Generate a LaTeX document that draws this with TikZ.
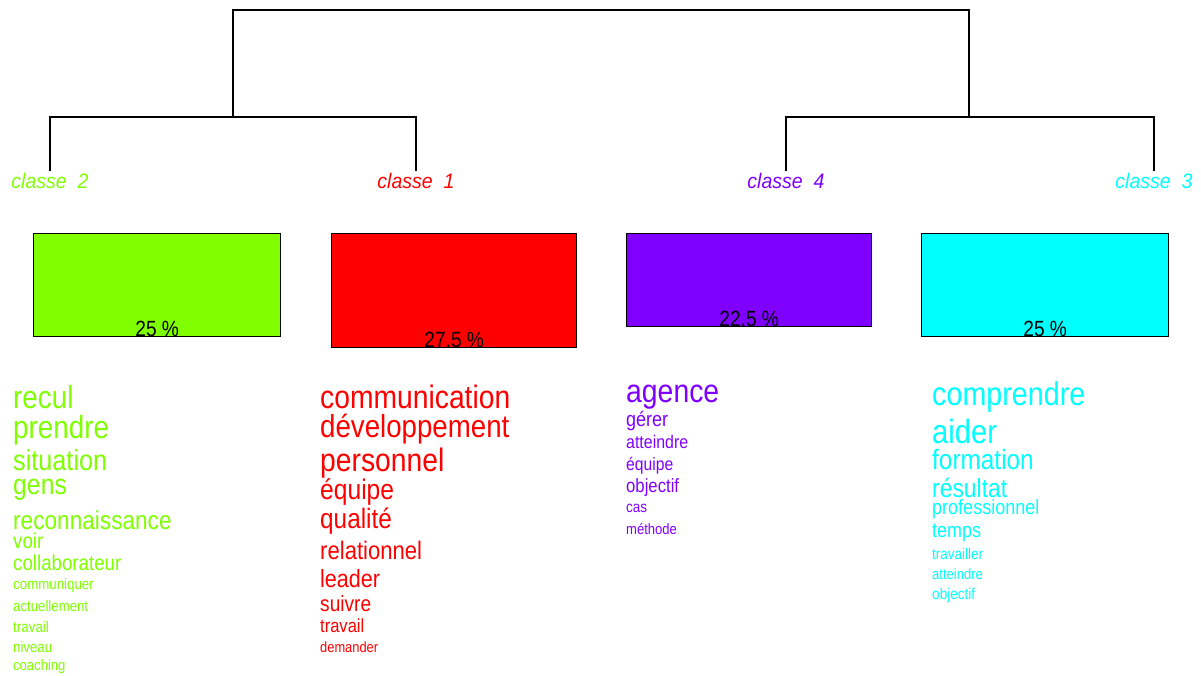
\documentclass[tikz,border=0pt]{standalone}
\usepackage{fontspec}
\setmainfont{Liberation Sans}
\usepackage{graphicx}
\definecolor{cgreen}{HTML}{80FF00}
\definecolor{cred}{HTML}{FF0000}
\definecolor{cpurple}{HTML}{8000FF}
\definecolor{ccyan}{HTML}{00FFFF}
\newcommand{\fsz}[1]{\fontsize{#1}{#1}\selectfont}
\newcommand{\cw}[1]{\scalebox{0.87}[1]{#1}}
\newcommand{\cwl}[1]{\scalebox{0.93}[1]{#1}}
% \word{name}{colour}{x}{y centre}{size}{text}
\newcommand{\word}[6]{\node[w, text=#2, font=\fsz{#5}] (#1) at (#3,{#4+0.33*#5}) {\cw{#6}};}
\begin{document}
\begin{tikzpicture}[x=1pt,y=-1pt,
  w/.style={anchor=base west, inner sep=0pt},
  cls/.style={anchor=base, inner sep=2pt, text height=15pt, text depth=4pt, font=\fsz{21}\itshape},
  box/.style={draw=black, line width=1.4pt, anchor=north west, inner sep=0pt},
  pct/.style={anchor=base, inner sep=0pt, font=\fsz{22}, text=black},
  tree/.style={draw=black, line width=1.4pt}]
\useasboundingbox (0,0) rectangle (1201,675);
\fill[white] (0,0) rectangle (1201,675);

% class labels
\node[cls, text=cgreen]  (l2) at (50,188)  {\cwl{classe\ \ 2}};
\node[cls, text=cred]    (l1) at (416,188) {\cwl{classe\ \ 1}};
\node[cls, text=cpurple] (l4) at (786,188) {\cwl{classe\ \ 4}};
\node[cls, text=ccyan]   (l3) at (1154,188){\cwl{classe\ \ 3}};

% dendrogram
\coordinate (j1) at (233,117);
\coordinate (j2) at (969,117);
\coordinate (rt) at (601,10);
\draw[tree] (l2.north) |- (j1) -| (l1.north);
\draw[tree] (l4.north) |- (j2) -| (l3.north);
\draw[tree] (j1) |- (rt) -| (j2);

% boxes
\node[box, fill=cgreen,  minimum width=247pt, minimum height=103pt] (b2) at (33,233) {};
\node[box, fill=cred,    minimum width=245pt, minimum height=114pt] (b1) at (331,233) {};
\node[box, fill=cpurple, minimum width=245pt, minimum height=93pt]  (b4) at (626,233) {};
\node[box, fill=ccyan,   minimum width=247pt, minimum height=103pt] (b3) at (921,233) {};
\node[pct] (p2) at ([yshift=1pt]b2.south) {\cw{25 \%}};
\node[pct] (p1) at ([yshift=1pt]b1.south) {\cw{27.5 \%}};
\node[pct] (p4) at ([yshift=1pt]b4.south) {\cw{22.5 \%}};
\node[pct] (p3) at ([yshift=1pt]b3.south) {\cw{25 \%}};

% classe 2 words
\word{g1}{cgreen}{13}{398}{32}{recul}
\word{g2}{cgreen}{13}{428}{32}{prendre}
\word{g3}{cgreen}{13}{461}{29}{situation}
\word{g4}{cgreen}{13}{485}{28.5}{gens}
\word{g5}{cgreen}{13}{521}{26}{reconnaissance}
\word{g6}{cgreen}{13}{541}{21.5}{voir}
\word{g7}{cgreen}{13}{563}{21.5}{collaborateur}
\word{g8}{cgreen}{13}{584}{15.3}{communiquer}
\word{g9}{cgreen}{13}{606}{15.2}{actuellement}
\word{g10}{cgreen}{13}{627}{15.4}{travail}
\word{g11}{cgreen}{13}{647}{15.2}{niveau}
\word{g12}{cgreen}{13}{666}{15}{coaching}

% classe 1 words
\word{r1}{cred}{320}{398}{32.5}{communication}
\word{r2}{cred}{320}{427}{31.8}{développement}
\word{r3}{cred}{320}{461}{32.5}{personnel}
\word{r4}{cred}{320}{490}{28.3}{équipe}
\word{r5}{cred}{320}{519}{28}{qualité}
\word{r6}{cred}{320}{551}{25.4}{relationnel}
\word{r7}{cred}{320}{579}{24.8}{leader}
\word{r8}{cred}{320}{604}{22}{suivre}
\word{r9}{cred}{320}{626}{19}{travail}
\word{r10}{cred}{320}{648}{14.8}{demander}

% classe 4 words
\word{v1}{cpurple}{626}{392}{32.6}{agence}
\word{v2}{cpurple}{626}{420}{20.7}{gérer}
\word{v3}{cpurple}{626}{442}{18.3}{atteindre}
\word{v4}{cpurple}{626}{465}{18}{équipe}
\word{v5}{cpurple}{626}{486}{19.2}{objectif}
\word{v6}{cpurple}{626}{507}{15.5}{cas}
\word{v7}{cpurple}{626}{530}{15}{méthode}

% classe 3 words
\word{c1}{ccyan}{932}{395}{33}{comprendre}
\word{c2}{ccyan}{932}{432}{33.6}{aider}
\word{c3}{ccyan}{932}{460}{28}{formation}
\word{c4}{ccyan}{932}{489}{26.3}{résultat}
\word{c5}{ccyan}{932}{508}{20.7}{professionnel}
\word{c6}{ccyan}{932}{531}{20.7}{temps}
\word{c7}{ccyan}{932}{554}{15.5}{travailler}
\word{c8}{ccyan}{932}{575}{15}{atteindre}
\word{c9}{ccyan}{932}{594}{15.6}{objectif}
\end{tikzpicture}
\end{document}
